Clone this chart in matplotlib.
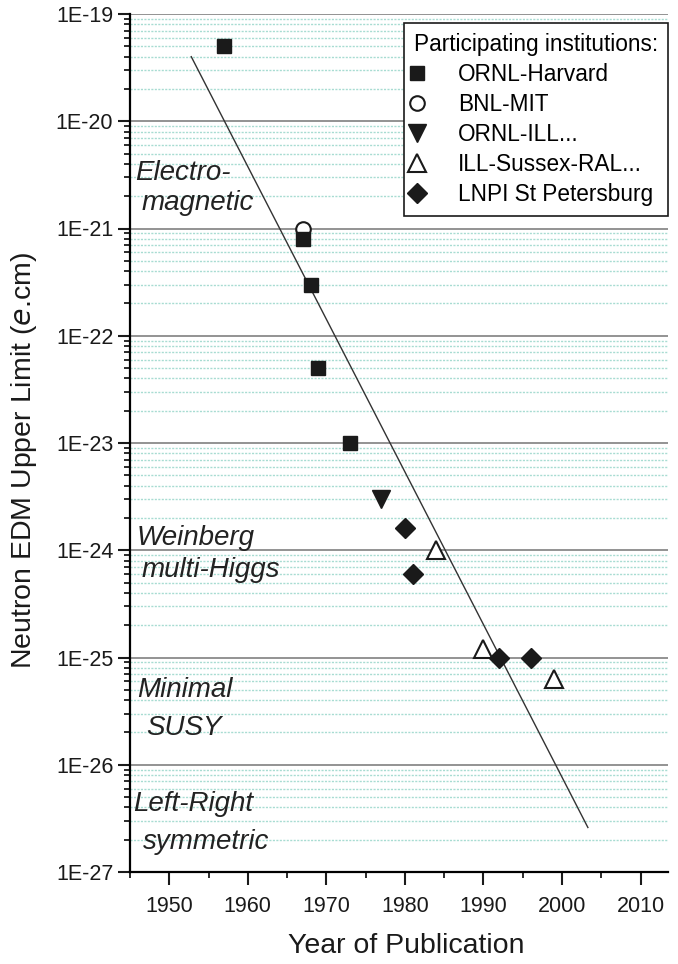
import numpy as np
import matplotlib
matplotlib.use('Agg')
import matplotlib.pyplot as plt
from matplotlib.ticker import LogLocator, FuncFormatter, MultipleLocator, NullFormatter

plt.rcParams['font.family'] = ['Liberation Sans', 'DejaVu Sans']

# dados
ornl_harvard_ano = [1957, 1967, 1968, 1969, 1973]
ornl_harvard_edm = [5e-20, 8e-22, 3e-22, 5e-23, 1e-23]

bnl_mit_ano = [1967]
bnl_mit_edm = [1e-21]

ornl_ill_ano = [1977]
ornl_ill_edm = [3e-24]

ill_sussex_ano = [1984, 1990, 1999]
ill_sussex_edm = [1e-24, 1.2e-25, 6.3e-26]

lnpi_ano = [1980, 1981, 1992, 1996]
lnpi_edm = [1.6e-24, 6e-25, 1e-25, 1e-25]

# reta de tendência (extremos)
tendencia_ano = [1952.8, 2003.3]
tendencia_edm = [4e-20, 2.6e-27]

# rótulos das regiões teóricas (uma linha por texto)
regioes = ['Electro-', 'magnetic', 'Weinberg', 'multi-Higgs',
           'Minimal', 'SUSY', 'Left-Right', 'symmetric']
regioes_ano = [1945.6, 1946.5, 1945.8, 1946.5, 1945.9, 1947.1, 1945.4, 1946.6]
regioes_edm = [2.83e-21, 1.49e-21, 1.12e-24, 5.6e-25, 4.3e-26, 1.9e-26, 3.7e-27, 1.64e-27]

fig = plt.figure(figsize=(6.78, 9.64), dpi=100)
ax = fig.add_axes([130 / 678, 92 / 964, 538 / 678, 858 / 964])

ax.set_yscale('log')
ax.set_ylim(1e-27, 1e-19)
ax.set_xlim(1945, 2013.5)

# grade
ax.yaxis.set_major_locator(LogLocator(base=10, numticks=20))
ax.yaxis.set_minor_locator(LogLocator(base=10, subs=np.arange(2, 10), numticks=20))
ax.yaxis.set_major_formatter(FuncFormatter(lambda v, p: f'1E{int(round(np.log10(v)))}'))
ax.yaxis.set_minor_formatter(NullFormatter())
ax.grid(True, which='major', axis='y', color='#8a8a8a', lw=1.3)
ax.grid(True, which='minor', axis='y', color='#a8dcd2', lw=1.0, ls=(0, (1.5, 1)))
ax.set_axisbelow(True)

ax.xaxis.set_major_locator(MultipleLocator(10))
ax.xaxis.set_minor_locator(MultipleLocator(5))

ax.plot(tendencia_ano, tendencia_edm, color='#333333', lw=1.0, zorder=2)

cor = '#1a1a1a'
ax.plot(ornl_harvard_ano, ornl_harvard_edm, 's', color=cor, ms=9.5, ls='none',
        label='ORNL-Harvard', zorder=4)
ax.plot(bnl_mit_ano, bnl_mit_edm, 'o', mfc='white', mec=cor, mew=1.5, ms=10.5, ls='none',
        label='BNL-MIT', zorder=3)
ax.plot(ornl_ill_ano, ornl_ill_edm, 'v', color=cor, ms=12.5, ls='none',
        label='ORNL-ILL...', zorder=4)
ax.plot(ill_sussex_ano, ill_sussex_edm, '^', mfc='white', mec=cor, mew=1.5, ms=12.5, ls='none',
        label='ILL-Sussex-RAL...', zorder=4)
ax.plot(lnpi_ano, lnpi_edm, 'D', color=cor, ms=10, ls='none',
        label='LNPI St Petersburg', zorder=4)

for texto, x, y in zip(regioes, regioes_ano, regioes_edm):
    ax.text(x, y, texto, fontsize=20, style='italic', color='#222222',
            ha='left', va='baseline')

for s in ['top', 'right']:
    ax.spines[s].set_visible(False)
ax.spines['left'].set_linewidth(1.6)
ax.spines['bottom'].set_linewidth(1.6)

ax.tick_params(axis='both', which='major', direction='out', length=9, width=1.5,
               labelsize=15.5, colors=cor, pad=3)
ax.tick_params(axis='both', which='minor', direction='out', length=4.5, width=1.3, colors=cor)
ax.tick_params(axis='x', which='major', pad=8)

ax.set_xlabel('Year of Publication', fontsize=20.5, color=cor)
ax.xaxis.set_label_coords(0.513, -0.071)
ax.set_ylabel(r'Neutron EDM Upper Limit ($\it{e}$.cm)', fontsize=20.5, color=cor)
ax.yaxis.set_label_coords(-0.17, 0.479)

leg = ax.legend(loc='upper right', bbox_to_anchor=(1.0, 0.9895), fontsize=16.3,
                title='Participating institutions:', title_fontsize=16.3,
                frameon=True, fancybox=False, edgecolor=cor, framealpha=1,
                handlelength=0.3, handletextpad=1.65, borderpad=0.45,
                labelspacing=0.31, borderaxespad=0, alignment='left')
leg.get_frame().set_linewidth(1.2)

fig.savefig('out.png', dpi=100)
